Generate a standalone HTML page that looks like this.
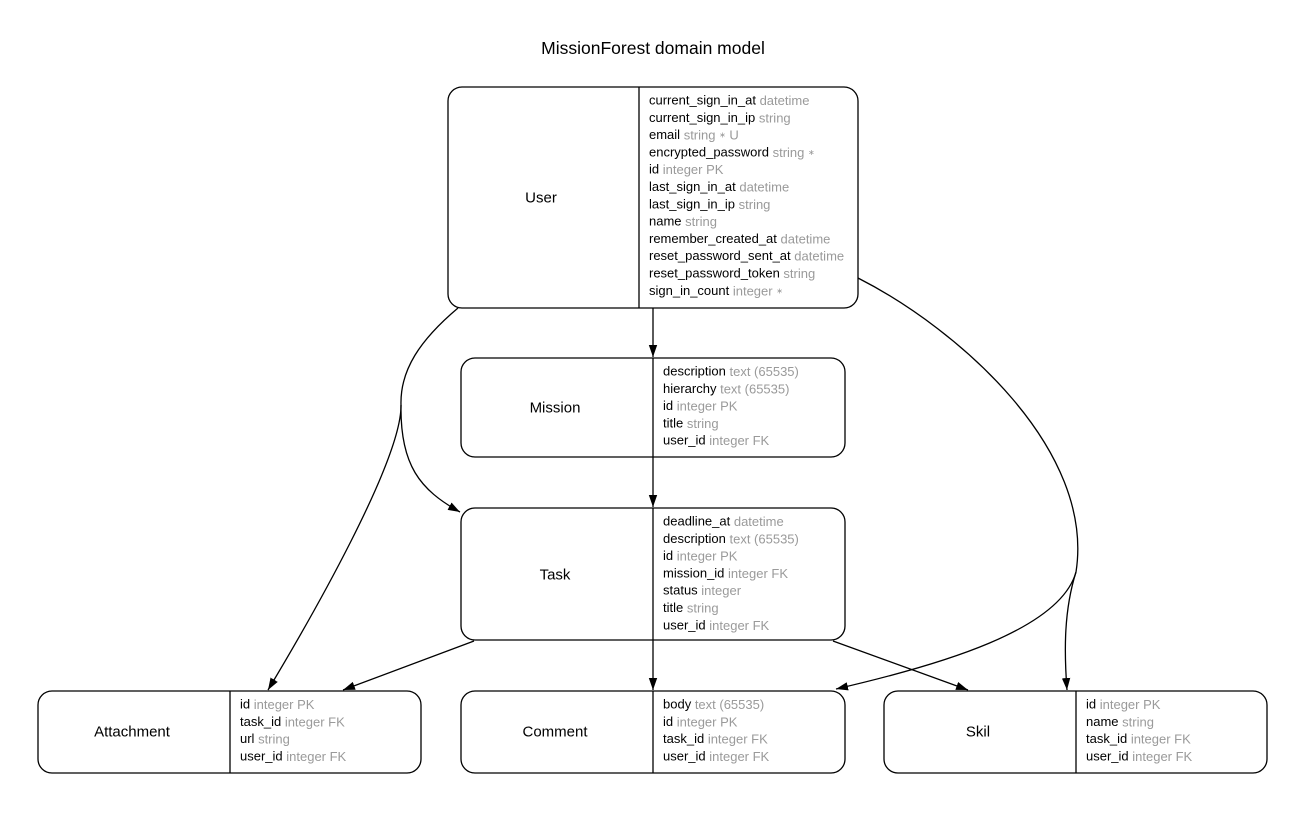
<!DOCTYPE html>
<html><head><meta charset="utf-8"><style>
html,body{margin:0;padding:0;background:#fff;}
svg{display:block;font-family:"Liberation Sans",Arial,sans-serif;}
.b{fill:#fff;stroke:#000;stroke-width:1.3;}
.l{stroke:#000;stroke-width:1.3;fill:none;}
.n{font-size:15px;text-anchor:middle;dominant-baseline:central;}
.f{font-size:13px;dominant-baseline:central;fill:#000;}
.f tspan.g{fill:#9a9a9a;}
.f tspan.s{font-size:8px;}
</style></head><body>
<svg width="1306" height="813" viewBox="0 0 1306 813">
<defs><marker id="a" viewBox="0 0 12 10" refX="12" refY="5" markerWidth="12" markerHeight="10" markerUnits="userSpaceOnUse" orient="auto"><path d="M0,0.8 L12,5 L0,9.2 Z" fill="#000"/></marker></defs>
<text x="653" y="48" font-size="17.5" text-anchor="middle" dominant-baseline="central">MissionForest domain model</text>

<path class="l" d="M653,308 L653,357" marker-end="url(#a)"/>
<path class="l" d="M653,457 L653,507" marker-end="url(#a)"/>
<path class="l" d="M653,640 L653,690" marker-end="url(#a)"/>
<path class="l" d="M458,308 C420,340 400,370 401,405 C402,460 310,620 268,690" marker-end="url(#a)"/>
<path class="l" d="M401,405 C400,465 420,490 460,512" marker-end="url(#a)"/>
<path class="l" d="M474,641 L343,690" marker-end="url(#a)"/>
<path class="l" d="M833,641 L968,690" marker-end="url(#a)"/>
<path class="l" d="M858,278 C960,330 1095,450 1076,572 C1060,630 940,665 836,689" marker-end="url(#a)"/>
<path class="l" d="M1076,572 C1064,610 1064,650 1067,690" marker-end="url(#a)"/>

<rect class="b" x="448" y="87" width="410" height="221" rx="14"/>
<line class="l" x1="639" y1="87" x2="639" y2="308"/>
<text class="n" x="541" y="198">User</text>
<text class="f" x="649" y="100">current_sign_in_at <tspan class="g">datetime</tspan></text>
<text class="f" x="649" y="117.3">current_sign_in_ip <tspan class="g">string</tspan></text>
<text class="f" x="649" y="134.6">email <tspan class="g">string <tspan class="s">∗</tspan> U</tspan></text>
<text class="f" x="649" y="151.9">encrypted_password <tspan class="g">string <tspan class="s">∗</tspan></tspan></text>
<text class="f" x="649" y="169.2">id <tspan class="g">integer PK</tspan></text>
<text class="f" x="649" y="186.5">last_sign_in_at <tspan class="g">datetime</tspan></text>
<text class="f" x="649" y="203.8">last_sign_in_ip <tspan class="g">string</tspan></text>
<text class="f" x="649" y="221.1">name <tspan class="g">string</tspan></text>
<text class="f" x="649" y="238.4">remember_created_at <tspan class="g">datetime</tspan></text>
<text class="f" x="649" y="255.7">reset_password_sent_at <tspan class="g">datetime</tspan></text>
<text class="f" x="649" y="273">reset_password_token <tspan class="g">string</tspan></text>
<text class="f" x="649" y="290.3">sign_in_count <tspan class="g">integer <tspan class="s">∗</tspan></tspan></text>

<rect class="b" x="461" y="358" width="384" height="99" rx="14"/>
<line class="l" x1="653" y1="358" x2="653" y2="457"/>
<text class="n" x="555" y="408">Mission</text>
<text class="f" x="663" y="371">description <tspan class="g">text (65535)</tspan></text>
<text class="f" x="663" y="388.3">hierarchy <tspan class="g">text (65535)</tspan></text>
<text class="f" x="663" y="405.6">id <tspan class="g">integer PK</tspan></text>
<text class="f" x="663" y="422.9">title <tspan class="g">string</tspan></text>
<text class="f" x="663" y="440.2">user_id <tspan class="g">integer FK</tspan></text>

<rect class="b" x="461" y="508" width="384" height="132" rx="14"/>
<line class="l" x1="653" y1="508" x2="653" y2="640"/>
<text class="n" x="555" y="575">Task</text>
<text class="f" x="663" y="521">deadline_at <tspan class="g">datetime</tspan></text>
<text class="f" x="663" y="538.3">description <tspan class="g">text (65535)</tspan></text>
<text class="f" x="663" y="555.6">id <tspan class="g">integer PK</tspan></text>
<text class="f" x="663" y="572.9">mission_id <tspan class="g">integer FK</tspan></text>
<text class="f" x="663" y="590.2">status <tspan class="g">integer</tspan></text>
<text class="f" x="663" y="607.5">title <tspan class="g">string</tspan></text>
<text class="f" x="663" y="624.8">user_id <tspan class="g">integer FK</tspan></text>

<rect class="b" x="38" y="691" width="383" height="82" rx="14"/>
<line class="l" x1="230" y1="691" x2="230" y2="773"/>
<text class="n" x="132" y="732">Attachment</text>
<text class="f" x="240" y="704">id <tspan class="g">integer PK</tspan></text>
<text class="f" x="240" y="721.3">task_id <tspan class="g">integer FK</tspan></text>
<text class="f" x="240" y="738.6">url <tspan class="g">string</tspan></text>
<text class="f" x="240" y="755.9">user_id <tspan class="g">integer FK</tspan></text>

<rect class="b" x="461" y="691" width="384" height="82" rx="14"/>
<line class="l" x1="653" y1="691" x2="653" y2="773"/>
<text class="n" x="555" y="732">Comment</text>
<text class="f" x="663" y="704">body <tspan class="g">text (65535)</tspan></text>
<text class="f" x="663" y="721.3">id <tspan class="g">integer PK</tspan></text>
<text class="f" x="663" y="738.6">task_id <tspan class="g">integer FK</tspan></text>
<text class="f" x="663" y="755.9">user_id <tspan class="g">integer FK</tspan></text>

<rect class="b" x="884" y="691" width="383" height="82" rx="14"/>
<line class="l" x1="1076" y1="691" x2="1076" y2="773"/>
<text class="n" x="978" y="732">Skil</text>
<text class="f" x="1086" y="704">id <tspan class="g">integer PK</tspan></text>
<text class="f" x="1086" y="721.3">name <tspan class="g">string</tspan></text>
<text class="f" x="1086" y="738.6">task_id <tspan class="g">integer FK</tspan></text>
<text class="f" x="1086" y="755.9">user_id <tspan class="g">integer FK</tspan></text>
</svg>
</body></html>
